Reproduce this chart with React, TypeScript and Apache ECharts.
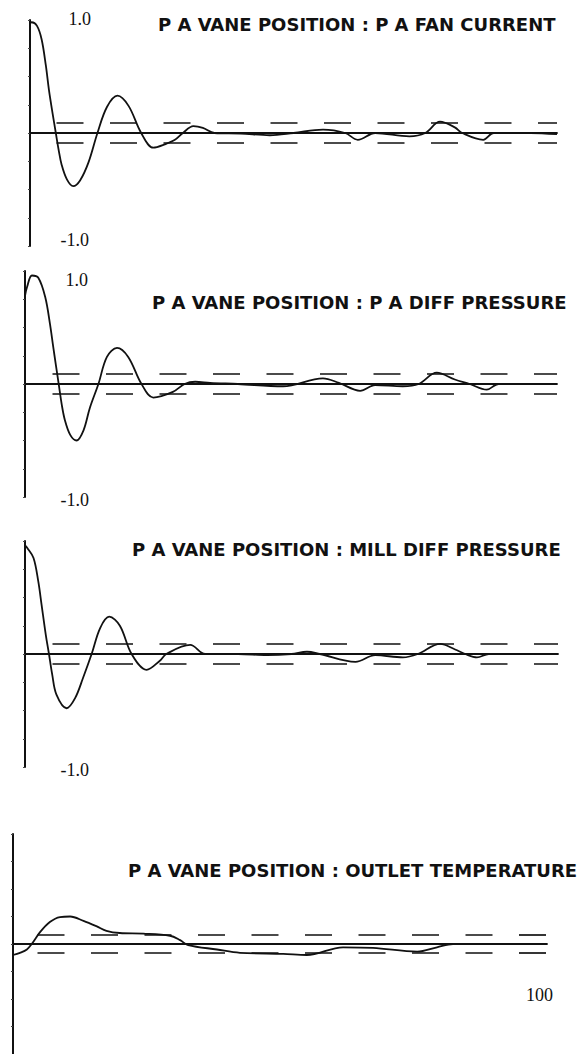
import React, { useEffect, useRef } from "react";
import * as echarts from "echarts";

// Panel titles
const titles = [
  "P A VANE POSITION : P A FAN CURRENT",
  "P A VANE POSITION : P A DIFF PRESSURE",
  "P A VANE POSITION : MILL DIFF PRESSURE",
  "P A VANE POSITION : OUTLET TEMPERATURE",
];

// y-axis end labels and x-axis end label
const yTopLabel = "1.0";
const yBottomLabel = "-1.0";
const xEndLabel = "100";

// Lag axis
const lagMin = 0;
const lagMax = 100;

// Confidence limits (± band) for each panel
const confidenceLimits = [0.088, 0.085, 0.085, 0.08];

// Panel 1: P A FAN CURRENT
const fanCurrentLag = [0, 0.3, 1.3, 2.2, 3.0, 3.6, 4.3, 4.9, 5.4, 6.0, 7.0, 8.2, 9.5, 11.1, 12.8, 14.6, 16.6, 18.7, 21.1, 23.4, 25.6, 27.5, 29, 31, 32.8, 35, 40, 45.5, 50, 55.6, 59.8, 62.2, 65.5, 72, 75, 77.8, 80.6, 82, 86, 88, 95, 100];
const fanCurrentValue = [0.97, 0.98, 0.95, 0.83, 0.6, 0.38, 0.17, 0, -0.14, -0.28, -0.41, -0.47, -0.42, -0.26, 0, 0.23, 0.33, 0.24, 0, -0.13, -0.1, -0.06, 0, 0.06, 0.045, 0, -0.005, -0.02, 0, 0.03, 0, -0.06, 0, -0.03, 0, 0.1, 0.05, 0, -0.06, 0, 0, -0.01];

// Panel 2: P A DIFF PRESSURE
const diffPressureLag = [0, 0.4, 1.3, 2.5, 3.8, 4.7, 5.3, 5.8, 6.4, 6.9, 7.5, 8.5, 9.7, 11, 12.2, 13.8, 15.4, 17.3, 19.4, 21.9, 24.1, 27.8, 30, 32, 34.8, 40, 48.5, 56, 59, 63, 65.8, 71, 74, 77.4, 80.8, 83.6, 86.8, 89, 100];
const diffPressureValue = [0.78, 0.86, 0.96, 0.94, 0.77, 0.53, 0.33, 0.17, -0.02, -0.18, -0.32, -0.45, -0.5, -0.41, -0.21, 0, 0.24, 0.32, 0.24, 0, -0.12, -0.07, 0, 0.02, 0.01, 0, -0.02, 0.05, 0.01, -0.06, -0.01, -0.02, 0, 0.1, 0.04, 0, -0.05, 0, 0];

// Panel 3: MILL DIFF PRESSURE
const millPressureLag = [0, 0.4, 1.6, 2.5, 3.1, 3.9, 4.5, 5.1, 5.9, 7.8, 9.4, 10.9, 12.5, 14.1, 15.8, 17.8, 20, 22.8, 25.3, 26.5, 31, 33.8, 40, 45.4, 50, 52.9, 55.3, 62, 65.7, 70.9, 73.7, 77.9, 80.7, 82.6, 84.8, 87, 100];
const millPressureValue = [0.96, 0.94, 0.85, 0.64, 0.44, 0.17, 0, -0.18, -0.36, -0.48, -0.39, -0.21, 0, 0.23, 0.33, 0.25, 0, -0.14, -0.06, 0, 0.08, 0, 0, -0.01, 0, 0.02, 0, -0.07, -0.01, -0.03, 0, 0.09, 0.04, 0, -0.03, 0, 0];

// Panel 4: OUTLET TEMPERATURE
const outletTempLag = [0, 1.3, 2.6, 3.5, 5.1, 6.9, 8.8, 10.7, 13.2, 15.7, 17.5, 20, 24.4, 29.4, 31.3, 32.8, 38.2, 42.5, 50.6, 55, 61.8, 67.4, 75.7, 79.4, 82.4, 100];
const outletTempValue = [-0.1, -0.08, -0.05, 0, 0.11, 0.2, 0.245, 0.25, 0.21, 0.16, 0.12, 0.1, 0.095, 0.075, 0.035, -0.01, -0.05, -0.08, -0.09, -0.1, -0.03, -0.035, -0.07, -0.03, 0, 0];

const panelLags = [fanCurrentLag, diffPressureLag, millPressureLag, outletTempLag];
const panelValues = [fanCurrentValue, diffPressureValue, millPressureValue, outletTempValue];

export default function App() {
  const ref = useRef<HTMLDivElement>(null);

  useEffect(() => {
    document.body.style.margin = "0";
    const chart = echarts.init(ref.current!, null, { renderer: "svg" });

    const grids = [
      { left: 30, top: 20, width: 527, height: 226 },
      { left: 25, top: 271, width: 532, height: 226 },
      { left: 25, top: 541, width: 533, height: 226 },
      { left: 13, top: 834, width: 534, height: 226 },
    ];
    const dashOffsets = [26.5, 25.5, 25.5, 28.5];

    const xAxes = grids.map((_, i) => ({
      type: "value",
      gridIndex: i,
      min: lagMin,
      max: lagMax,
      axisLine: { show: true, onZero: true, lineStyle: { color: "#111", width: 1.8 } },
      axisTick: { show: false },
      axisLabel: { show: false },
      splitLine: { show: false },
    }));
    const yAxes = grids.map((_, i) => ({
      type: "value",
      gridIndex: i,
      min: -1,
      max: 1,
      interval: 0.25,
      axisLine: { show: true, lineStyle: { color: "#111", width: 2 } },
      axisTick: { show: true, length: 2, lineStyle: { color: "#444", width: 1 } },
      axisLabel: { show: false },
      splitLine: { show: false },
    }));

    const series = panelLags.map((lags, i) => ({
      type: "line",
      xAxisIndex: i,
      yAxisIndex: i,
      data: lags.map((l, j) => [l, panelValues[i][j]]),
      smooth: 0.35,
      symbol: "none",
      lineStyle: { color: "#111", width: 1.8 },
      silent: true,
      markLine: {
        silent: true,
        symbol: ["none", "none"],
        label: { show: false },
        lineStyle: { color: "#111", width: 1.7, type: [27, 26.5], dashOffset: dashOffsets[i] },
        data: [{ yAxis: confidenceLimits[i] }, { yAxis: -confidenceLimits[i] }],
      },
    }));

    const titleFont = { fontFamily: "DejaVu Sans", fontWeight: "bold", fontSize: 18, fill: "#111" };
    const numFont = { fontFamily: "Liberation Serif", fontSize: 18, fill: "#111" };
    const titlePos = [
      [158, 24],
      [152, 302],
      [132, 549],
      [128, 870],
    ];
    const graphic: any[] = titles.map((t, i) => ({
      type: "text",
      x: titlePos[i][0],
      y: titlePos[i][1],
      style: { text: t, ...titleFont, textAlign: "left", textVerticalAlign: "middle" },
    }));
    const numLabels = [
      [yTopLabel, 91, 19],
      [yBottomLabel, 89, 240],
      [yTopLabel, 88, 280],
      [yBottomLabel, 89, 500],
      [yBottomLabel, 89, 770],
      [xEndLabel, 553, 995],
    ];
    numLabels.forEach(([t, x, y]) => {
      graphic.push({
        type: "text",
        x,
        y,
        style: { text: t, ...numFont, textAlign: "right", textVerticalAlign: "middle" },
      });
    });

    chart.setOption({
      animation: false,
      backgroundColor: "#fff",
      grid: grids,
      xAxis: xAxes,
      yAxis: yAxes,
      series,
      graphic,
    });
    return () => chart.dispose();
  }, []);

  return <div ref={ref} style={{ width: 586, height: 1054, position: "absolute", left: 0, top: 0 }} />;
}
